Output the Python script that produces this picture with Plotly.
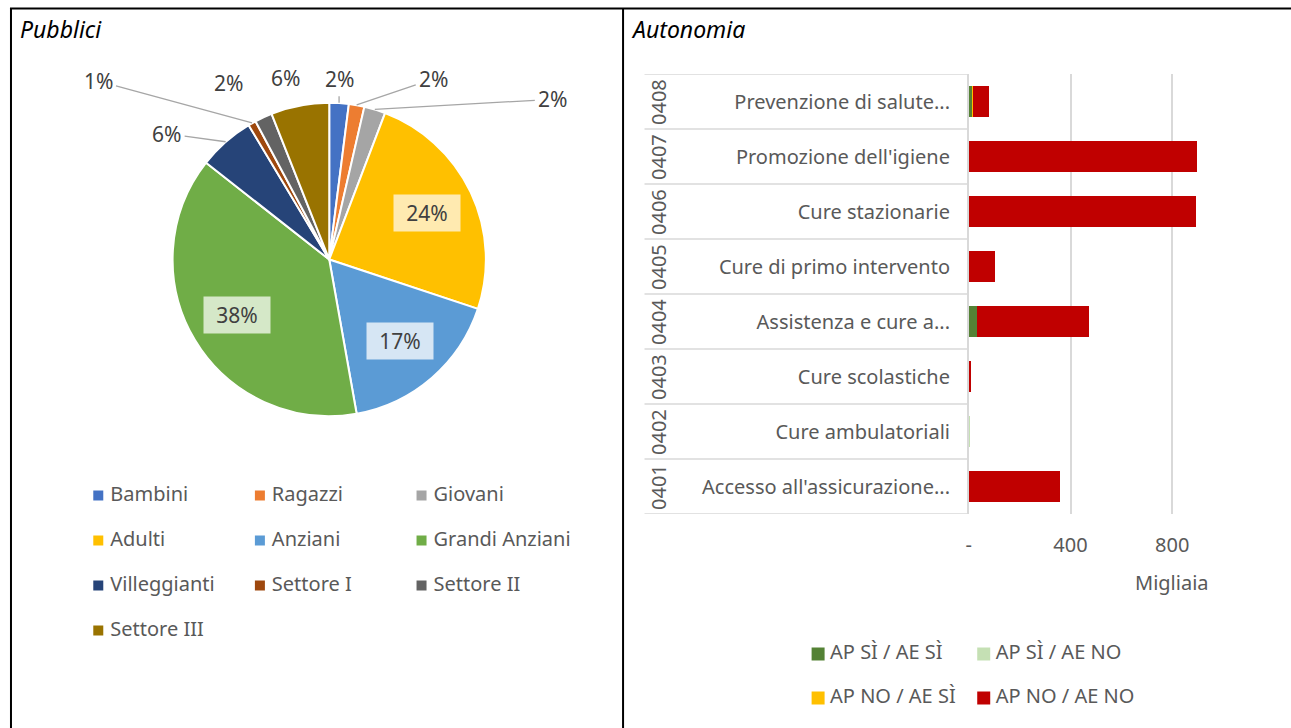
import math
import plotly.graph_objects as go

W, H = 1291, 728

# ---------------- data: "Pubblici" (pie) ----------------
pie_labels = ["Bambini", "Ragazzi", "Giovani", "Adulti", "Anziani",
              "Grandi Anziani", "Villeggianti", "Settore I", "Settore II", "Settore III"]
pie_values = [2.0, 1.6, 2.2, 24.3, 17.1, 38.4, 5.8, 0.8, 1.8, 6.0]

# ---------------- data: "Autonomia" (stacked bars, Migliaia) ----------------
bar_codes = ["0401", "0402", "0403", "0404", "0405", "0406", "0407", "0408"]
bar_categories = ["Accesso all'assicurazione...", "Cure ambulatoriali", "Cure scolastiche",
                  "Assistenza e cure a...", "Cure di primo intervento", "Cure stazionarie",
                  "Promozione dell'igiene", "Prevenzione di salute..."]
series_names = ["AP SÌ / AE SÌ", "AP SÌ / AE NO", "AP NO / AE SÌ", "AP NO / AE NO"]
ap_si_ae_si = [0, 0, 0, 33, 0, 0, 0, 14]
ap_si_ae_no = [0, 3, 0, 0, 0, 0, 0, 0]
ap_no_ae_si = [0, 0, 0, 0, 0, 0, 0, 3]
ap_no_ae_no = [357, 0, 5, 440, 103, 894, 898, 62]
x_tickvals = [0, 400, 800]
x_ticktext = ["-", "400", "800"]
x_unit_label = "Migliaia"

# ---------------- styles ----------------
pie_colors = ["#4472C4", "#ED7D31", "#A5A5A5", "#FFC000", "#5B9BD5",
              "#70AD47", "#264478", "#9E480E", "#636363", "#997300"]
series_colors = ["#548235", "#C5E0B4", "#FFC000", "#C00000"]
FONT = "Noto Sans"
GREY = "#595959"
DARK = "#404040"
LINE = "#D9D9D9"
FS = 20


def px(x):
    return x / W


def py(y):
    return 1 - y / H


fig = go.Figure()

# ---------------- pie ----------------
PIE_CX, PIE_CY, PIE_R = 327, 259.5, 157
fig.add_trace(go.Pie(
    labels=pie_labels, values=pie_values, sort=False, direction="clockwise", rotation=0,
    marker=dict(colors=pie_colors, line=dict(color="white", width=2)),
    textinfo="none", hoverinfo="label+percent", showlegend=False,
    domain=dict(x=[px(PIE_CX - PIE_R), px(PIE_CX + PIE_R)],
                y=[py(PIE_CY + PIE_R), py(PIE_CY - PIE_R)]),
))

# label placement style: None -> inside box, else pixel offset of label from slice edge
label_offsets = [(0, -24), (77, -26), (178, -10), None, None, None,
                 (-59, -8), (-154, -42), (-35, -34), (-14, -27)]
label_arrow = [True, True, True, False, False, False, True, True, False, False]
inside_tints = {3: "#FFEAB0", 4: "#D6E6F4", 5: "#D5E8C8"}

annotations = []
total = sum(pie_values)
cum = 0.0
for i, (lab, v) in enumerate(zip(pie_labels, pie_values)):
    mid = (cum + v / 2) / total * 2 * math.pi
    cum += v
    pct = f"{round(v / total * 100)}%"
    if label_offsets[i] is None:
        r = 0.69 * PIE_R
        annotations.append(dict(
            x=px(PIE_CX + r * math.sin(mid)), y=py(PIE_CY - r * math.cos(mid)),
            xref="paper", yref="paper", xanchor="center", yanchor="middle",
            text=pct, showarrow=False,
            bgcolor=inside_tints[i], width=54, height=24, borderpad=6,
            font=dict(family=FONT, size=21, color=DARK)))
    else:
        ex = PIE_CX + PIE_R * math.sin(mid)
        ey = PIE_CY - PIE_R * math.cos(mid)
        dx, dy = label_offsets[i]
        annotations.append(dict(
            x=px(ex), y=py(ey), xref="paper", yref="paper", text=pct,
            showarrow=True, arrowhead=0, ax=dx, ay=dy, arrowwidth=1.3,
            arrowcolor="#A6A6A6" if label_arrow[i] else "rgba(0,0,0,0)",
            startstandoff=2, font=dict(family=FONT, size=21, color=DARK)))

# ---------------- stacked bars ----------------
for name, vals, col in zip(series_names, [ap_si_ae_si, ap_si_ae_no, ap_no_ae_si, ap_no_ae_no],
                           series_colors):
    fig.add_trace(go.Bar(
        y=bar_categories, x=vals, name=name, orientation="h",
        marker=dict(color=col, line=dict(width=0)), showlegend=False,
        xaxis="x", yaxis="y"))

# outer-level codes of the category axis (rotated)
for code, cat in zip(bar_codes, bar_categories):
    annotations.append(dict(
        x=px(657), y=cat, xref="paper", yref="y", xanchor="center", yanchor="middle",
        text=code, textangle=-90,
        showarrow=False, font=dict(family=FONT, size=FS, color=GREY)))

annotations.append(dict(x=px(1172), y=py(582), xref="paper", yref="paper",
                        xanchor="center", yanchor="middle", text=x_unit_label,
                        showarrow=False, font=dict(family=FONT, size=FS, color=GREY)))

# panel titles
annotations.append(dict(x=px(15), y=py(29), xref="paper", yref="paper", xanchor="left",
                        yanchor="middle", text="<i>Pubblici</i>", showarrow=False,
                        font=dict(family=FONT, size=23, color="black")))
annotations.append(dict(x=px(627), y=py(29), xref="paper", yref="paper", xanchor="left",
                        yanchor="middle", text="<i>Autonomia</i>", showarrow=False,
                        font=dict(family=FONT, size=23, color="black")))

# ---------------- legends (drawn on hidden grid axes) ----------------
# left legend: 3 columns
L_X0, L_PITCH, L_Y0, L_RPITCH, L_OFF = 95.5, 162, 495.5, 45, 12
l_cols = [i % 3 for i in range(len(pie_labels))]
l_rows = [i // 3 for i in range(len(pie_labels))]
fig.add_trace(go.Scatter(x=l_cols, y=l_rows, mode="markers", xaxis="x3", yaxis="y3",
                         marker=dict(symbol="square", size=10, color=pie_colors),
                         hoverinfo="skip", showlegend=False))
fig.add_trace(go.Scatter(x=[c + L_OFF / L_PITCH for c in l_cols], y=l_rows, mode="text",
                         xaxis="x3", yaxis="y3", text=pie_labels, textposition="middle right",
                         textfont=dict(family=FONT, size=FS, color=GREY),
                         hoverinfo="skip", showlegend=False))
# right legend: 2 columns
R_X0, R_PITCH, R_Y0, R_RPITCH, R_OFF = 817, 166, 654, 44, 12
r_cols = [i % 2 for i in range(len(series_names))]
r_rows = [i // 2 for i in range(len(series_names))]
fig.add_trace(go.Scatter(x=r_cols, y=r_rows, mode="markers", xaxis="x4", yaxis="y4",
                         marker=dict(symbol="square", size=13, color=series_colors),
                         hoverinfo="skip", showlegend=False))
fig.add_trace(go.Scatter(x=[c + R_OFF / R_PITCH for c in r_cols], y=r_rows, mode="text",
                         xaxis="x4", yaxis="y4", text=series_names, textposition="middle right",
                         textfont=dict(family=FONT, size=FS, color=GREY),
                         hoverinfo="skip", showlegend=False))

# ---------------- shapes: panel borders and category table lines ----------------
shapes = [
    dict(type="line", xref="paper", yref="paper", x0=px(7), x1=1, y0=py(8.5), y1=py(8.5),
         line=dict(color="black", width=2)),
    dict(type="line", xref="paper", yref="paper", x0=px(8), x1=px(8), y0=py(8), y1=0,
         line=dict(color="black", width=2)),
    dict(type="line", xref="paper", yref="paper", x0=px(621.5), x1=px(621.5), y0=py(8), y1=0,
         line=dict(color="black", width=2)),
]
for k in range(len(bar_categories) + 1):
    shapes.append(dict(type="line", xref="paper", yref="y", x0=px(643), x1=px(968),
                       y0=k - 0.5, y1=k - 0.5, line=dict(color=LINE, width=1.5)))

PLOT_L, PLOT_R, PLOT_T, PLOT_B = 968, 1223, 74, 514
fig.update_layout(
    width=W, height=H, autosize=False,
    margin=dict(l=0, r=0, t=0, b=0),
    paper_bgcolor="white", plot_bgcolor="rgba(0,0,0,0)",
    font=dict(family=FONT, color=GREY),
    barmode="stack", bargap=0.44,
    showlegend=False,
    xaxis=dict(domain=[px(PLOT_L), px(PLOT_R)], anchor="y", range=[0, 1000],
               tickvals=x_tickvals, ticktext=x_ticktext, showgrid=True, gridcolor=LINE,
               gridwidth=1.5, zeroline=False, showline=False, ticks="",
               ticklabelstandoff=17, tickfont=dict(family=FONT, size=FS, color=GREY),
               fixedrange=True),
    yaxis=dict(domain=[py(PLOT_B), py(PLOT_T)], anchor="x", type="category",
               categoryorder="array", categoryarray=bar_categories, range=[-0.5, 7.5],
               showline=True, linecolor=LINE, linewidth=1.5, ticks="", showgrid=False,
               ticklabelstandoff=13, tickfont=dict(family=FONT, size=FS, color=GREY),
               fixedrange=True),
    xaxis3=dict(domain=[0, 1], anchor="y3", visible=False, fixedrange=True,
                range=[-L_X0 / L_PITCH, (W - L_X0) / L_PITCH]),
    yaxis3=dict(domain=[0, 1], anchor="x3", visible=False, fixedrange=True,
                range=[(H - L_Y0) / L_RPITCH, -L_Y0 / L_RPITCH]),
    xaxis4=dict(domain=[0, 1], anchor="y4", visible=False, fixedrange=True,
                range=[-R_X0 / R_PITCH, (W - R_X0) / R_PITCH]),
    yaxis4=dict(domain=[0, 1], anchor="x4", visible=False, fixedrange=True,
                range=[(H - R_Y0) / R_RPITCH, -R_Y0 / R_RPITCH]),
    annotations=annotations,
    shapes=shapes,
)

fig.write_html("out.html", config={"displayModeBar": False},
               post_script="document.body.style.margin='0';")
